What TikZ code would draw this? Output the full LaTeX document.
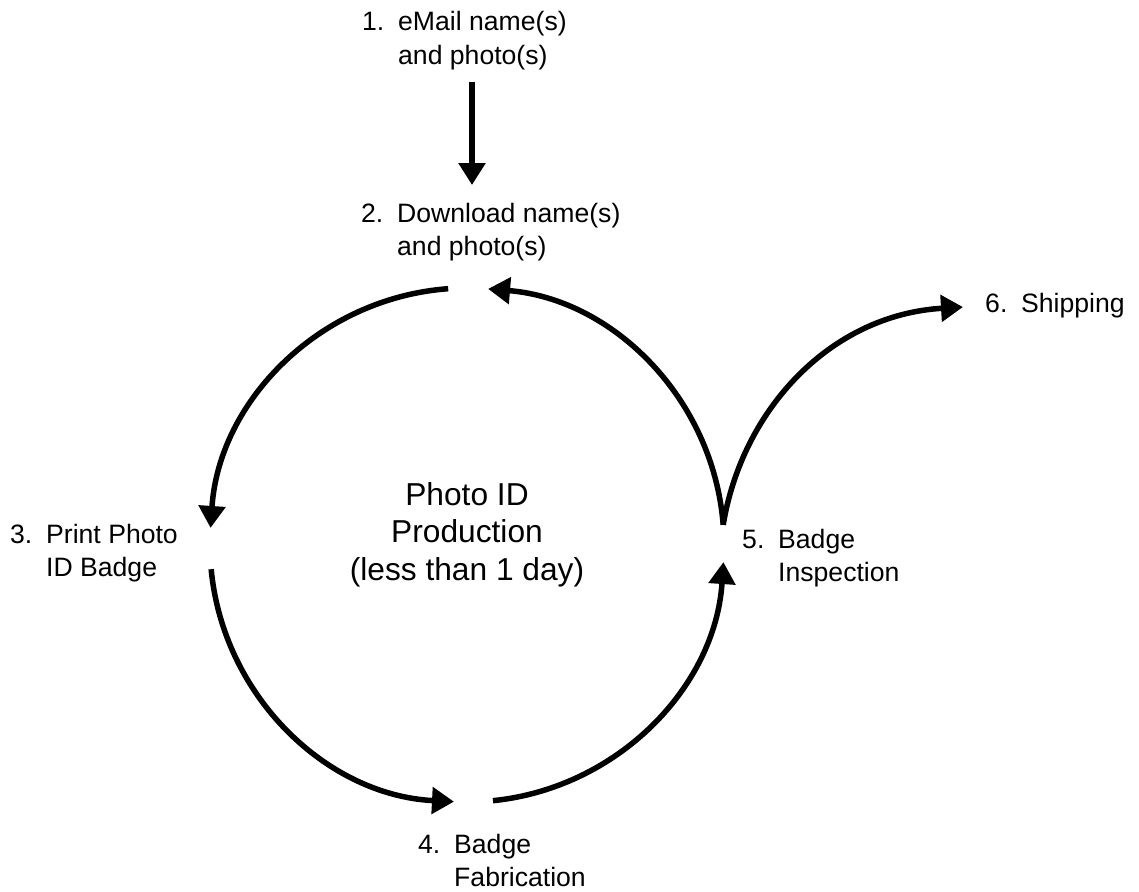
\documentclass[tikz,border=0pt]{standalone}
\usepackage{fontspec}
\setmainfont{Liberation Sans}
\usetikzlibrary{arrows.meta}
\newcommand{\steplbl}[3]{\begin{tabular}[t]{@{}l@{}l@{}}\makebox[36pt][l]{#1}&#2\\&#3\end{tabular}}
\begin{document}
\begin{tikzpicture}[x=1pt,y=1pt,
  conn/.style={line width=5.5pt, -{Triangle[length=22pt,width=26pt]}},
  lbl/.style={anchor=base west, inner sep=0pt, font=\fontsize{26.6}{33}\selectfont}]
\useasboundingbox (0,0) rectangle (1139,-891);
% labels
\node[lbl] (s1) at (362,-31) {\steplbl{1.}{eMail name(s)}{and photo(s)}};
\node[lbl] (s2) at (361,-222) {\steplbl{2.}{Download name(s)}{and photo(s)}};
\node[lbl] (s3) at (10,-543) {\steplbl{3.}{Print Photo}{ID Badge}};
\node[lbl] (s4) at (418,-853) {\steplbl{4.}{Badge}{Fabrication}};
\node[lbl] (s5) at (742,-548) {\steplbl{5.}{Badge}{Inspection}};
\node[lbl] (s6) at (985,-312) {\makebox[36pt][l]{6.}Shipping};
\node[anchor=base, inner sep=0pt, font=\fontsize{31.7}{37.5}\selectfont] (c) at (467,-505)
  {\begin{tabular}[t]{@{}c@{}}Photo ID\\Production\\(less than 1 day)\end{tabular}};
% connector end points
\coordinate (O) at (467,-545);
\coordinate (a1s) at (472,-82);
\coordinate (a1e) at (472,-185);
\coordinate (g2a) at ([shift={(94.2:257)}]O);
\coordinate (g3a) at ([shift={(185.4:257)}]O);
\coordinate (g4a) at ([shift={(275.8:257)}]O);
\coordinate (g5a) at ([shift={(4.5:257)}]O);
\coordinate (g6) at (963,-307);
% connectors
\draw[conn] (a1s) -- (a1e);
\draw[conn] (g2a) arc[start angle=94.2, end angle=176.2, radius=257];
\draw[conn] (g3a) arc[start angle=185.4, end angle=267.1, radius=257];
\draw[conn] (g4a) arc[start angle=275.8, end angle=356.2, radius=257];
\draw[conn] (g5a) arc[start angle=4.5, end angle=85.3, radius=257];
\draw[conn] (g5a) .. controls (742,-410) and (830,-315) .. (g6);
\end{tikzpicture}
\end{document}
